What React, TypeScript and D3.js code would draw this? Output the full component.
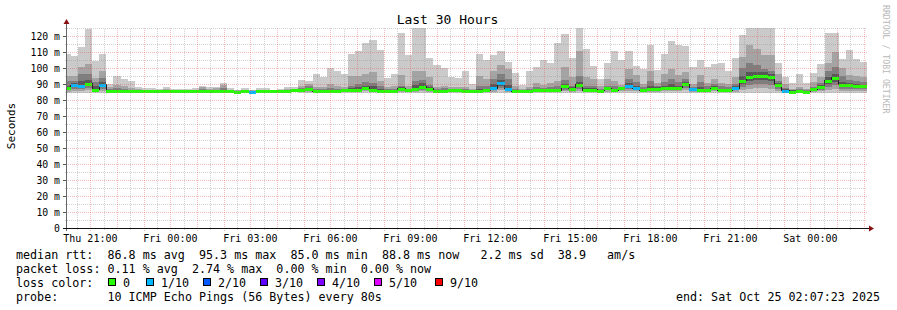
import React from 'react';
import * as d3 from 'd3';

// ---------- data ----------
const titleText = 'Last 30 Hours';
const yAxisLabel = 'Seconds';
const sideText = 'RRDTOOL / TOBI OETIKER';
const yTickValues = [0, 10, 20, 30, 40, 50, 60, 70, 80, 90, 100, 110, 120];

// 16-minute consolidated blocks, starting Thu 20:00 UTC
const hi = [108.5,107.5,113,124.5,104.5,108.7,90,95.2,93,91.7,
 88.3,87.5,87.5,86.7,88.3,86.7,86.7,86.7,87.5,88.7,
 88.3,88.3,90.8,87.5,86.2,87.5,86.2,87.5,87.5,86.3,
 86.7,88.3,88.3,92.5,91.7,96.3,94.6,100.2,98.1,96.3,
 108.8,110.4,115.6,117.5,111.3,93.8,96.3,121.9,108.1,128,
 128,106,101.9,100.2,94.6,93.8,98.1,90,108.8,105,
 108.1,110.4,103.8,96.7,89.4,98.1,100.6,105,103.1,115.8,
 121.3,106.3,128,111.9,101.3,93.1,103.1,110.6,105,110.6,
 101.3,99.4,114.4,98.8,108.8,116.9,114.4,113.8,100.4,105,
 100.8,102.5,103.1,98.1,106.3,120.6,128,128,128,128,
 103.1,94.6,90.6,96.3,90.6,96.9,102.5,121.9,121.9,105.6,
 111.3,105.6,104];
const p9 = [95,95,100.5,102.5,94,98,88,89.5,88.5,87.5,
 87,86.5,86.3,86.2,86.8,86.2,86.2,86.2,86.5,88.3,
 87,87.5,89.2,86.5,86,86.3,86,86.5,86.5,86,
 86.2,86.8,87,89,90,88,88,90,88.8,88,
 95.2,95.2,96.3,97.7,92,88,88.8,95.8,88.8,98.3,
 97.9,94.2,88,89,88,88.3,88.3,86.7,95.2,93,
 98.3,101.9,99.4,89,86.9,88,90.8,89.6,90.8,92,
 100.8,94.2,110.4,94.2,92.9,89,92.9,92,89.6,99.6,
 95.8,90,98.3,90.8,96.3,99.4,95.6,97.3,90,95.8,
 90.8,93.1,90.4,90,94.2,106.7,114.6,111.9,108.1,108.1,
 96.3,90,87.1,88,86.7,91,94.2,103.1,109.8,99.8,
 95.6,95.2,94.2];
const p8 = [92,92,96,96,91,94,86.8,87.5,87,86.5,
 86.3,86,86,85.9,86.2,85.9,85.9,85.9,86,87,
 86.3,86.5,87.5,86,85.8,85.9,85.8,86,86,85.8,
 85.9,86.2,86.3,87.3,88.5,86.8,86.8,87.5,87,86.8,
 89,90,91,90.5,89,86.8,87,89,87,92,
 92.5,89.5,86.8,87.3,86.8,87,87,86,89,88.5,
 93,96.3,93,87,86.2,86.8,88,87.5,88,88.5,
 92.5,89,95,89,88.5,87,88.5,88.5,88,93,
 91,88,92,88.5,91,93,91,93,88,91,
 88.5,90,88.5,88,90,100,102.9,102,99.4,98,
 92,87.5,86.2,86.8,86,88.3,90.5,98,100.4,95,
 92.5,92,91];
const p7 = [89,90.5,92,92.5,88.5,91.5,86.2,86.5,86.3,86.1,
 86,85.8,85.8,85.7,85.9,85.7,85.7,85.7,85.8,86.3,
 86,86.1,86.5,85.8,85.7,85.7,85.7,85.8,85.8,85.7,
 85.7,85.9,86.2,86.5,87.5,86.3,86.2,86.5,86.3,86.4,
 87.3,88,89,88.5,87,86.2,86.3,88,86.8,89.5,
 90.5,88,86.3,86.4,86.5,86.5,86.3,85.8,87,87,
 90,92.5,89.5,86.3,85.9,86.2,86.8,86.8,86.8,87,
 90,88,91.5,87.5,87.2,86.3,88,87,88.3,90.5,
 89,86.8,88.5,88,89,90,89,91.5,87.5,88,
 87,88.5,87,87,88.5,95,97.5,97.5,97.5,96.5,
 90.5,86.8,86,86.3,85.8,87.3,89.3,94.5,96.5,91.5,
 90.5,90,89.5];
const med = [87.4,89.2,88.8,90.3,86.5,89.6,85.5,85.5,85.6,85.5,
 85.5,85.4,85.4,85.4,85.5,85.4,85.4,85.4,85.4,85.6,
 85.5,85.6,85.7,85.4,85.3,85.4,85.3,85.4,85.5,85.4,
 85.4,85.5,86,86,86.9,85.6,85.6,85.6,85.6,86,
 86,86.5,87.7,86.5,85.6,85.6,85.6,87.1,86.5,87.1,
 88.3,87.1,85.6,85.6,86.2,86,85.6,85.5,85.6,86.2,
 87.5,90.4,86.9,85.6,85.5,85.6,86,86,86.2,86.2,
 88.5,87.1,89.4,86.2,86.5,85.8,87.3,86,87.7,88.8,
 87.5,86,86.7,86.7,87.7,87.7,87.7,90,86.7,86.2,
 86,87.5,86,86,87.3,92.1,94.6,95,95.3,94.6,
 89.6,85.8,85.2,85.6,85.2,86.7,88.3,92.1,93.8,89.6,
 89.2,89,88.8];
const lo = [84.4,84.4,84.4,84.3,84.5,84.4,84.8,84.8,84.8,84.8,
 84.8,84.8,84.8,84.8,84.8,84.8,84.8,84.8,84.8,84.8,
 84.8,84.8,84.8,84.8,84.8,84.8,84.8,84.8,84.8,84.8,
 84.8,84.8,84.7,84.6,84.5,84.7,84.7,84.6,84.6,84.6,
 84.5,84.5,84.4,84.4,84.5,84.7,84.6,84.4,84.5,84.3,
 84.3,84.5,84.6,84.6,84.6,84.6,84.6,84.7,84.5,84.5,
 84.4,84.3,84.4,84.6,84.7,84.6,84.5,84.5,84.5,84.4,
 84.3,84.5,84.3,84.5,84.5,84.6,84.5,84.4,84.5,84.4,
 84.5,84.6,84.4,84.5,84.5,84.4,84.4,84.4,84.6,84.5,
 84.6,84.5,84.5,84.6,84.5,84.3,84.2,84.2,84.2,84.3,
 84.5,84.7,84.8,84.7,84.8,84.6,84.5,84.3,84.3,84.4,
 84.4,84.5,84.5];
const loss = [0,1,1,0,0,1,0,0,0,0,
 0,0,0,0,0,0,0,0,0,0,
 0,0,0,0,0,0,1,0,0,0,
 0,0,0,0,0,0,0,0,0,0,
 0,0,0,0,0,0,0,0,0,0,
 0,0,0,0,0,0,0,0,0,0,
 1,1,1,0,0,0,0,0,0,0,
 0,0,0,0,0,0,0,0,0,1,
 1,0,0,0,0,0,0,0,1,0,
 0,0,0,0,1,0,0,0,0,0,
 0,1,0,0,0,0,0,0,0,0,
 0,0,0];

const lossLabels = ['0', '1/10', '2/10', '3/10', '4/10', '5/10', '9/10'];
const lossColors = ['#26ff00', '#00b8ff', '#0059ff', '#5e00ff', '#7e00ff', '#dd00ff', '#ff0000'];

const legendRows = [
  'median rtt:  86.8 ms avg  95.3 ms max  85.0 ms min  88.8 ms now   2.2 ms sd  38.9   am/s',
  'packet loss: 0.11 % avg  2.74 % max  0.00 % min  0.00 % now',
];
const lossColorLabel = 'loss color:';
const probeRow = 'probe:       10 ICMP Echo Pings (56 Bytes) every 80s';
const endText = 'end: Sat Oct 25 02:07:23 2025';

// ---------- layout ----------
const W = 897, H = 310;
const X0 = 67, X1 = 867, YB = 228, YT = 28;
const START = Date.UTC(2025, 9, 23, 20, 7, 23);
const END = Date.UTC(2025, 9, 25, 2, 7, 23);
const BLOCK0 = Date.UTC(2025, 9, 23, 20, 0, 0);
const STEP = 16 * 60 * 1000;
const Y_MAX = 125;
const MONO = '"DejaVu Sans Mono", monospace';

export default function App() {
  const x = d3.scaleUtc().domain([new Date(START), new Date(END)]).range([X0, X1]);
  const y = d3.scaleLinear().domain([0, Y_MAX]).range([YB, YT]);
  const cx = (v: number) => Math.max(X0, Math.min(X1, v));

  const blocks = med.map((m, i) => {
    const t0 = BLOCK0 + i * STEP;
    return { i, xa: cx(x(new Date(t0))), xb: cx(x(new Date(t0 + STEP))) };
  });

  const bands = [
    { top: hi, fill: '#cacaca', frac: 1 },
    { top: p9, fill: '#a4a4a4', frac: 0.72 },
    { top: p8, fill: '#7e7e7e', frac: 0.48 },
    { top: p7, fill: '#585858', frac: 0.25 },
  ];

  const medLine = d3.line<number>()
    .x((_, i) => i < med.length ? blocks[i].xa : blocks[med.length - 1].xb)
    .y((d) => y(d))
    .curve(d3.curveStepAfter);
  const medPath = medLine([...med, med[med.length - 1]]);

  const minorX = d3.utcMinute.every(30)!.range(new Date(START), new Date(END)).filter(d => d.getUTCMinutes() !== 0);
  const majorX = d3.utcHour.every(1)!.range(new Date(START), new Date(END));
  const labelX = d3.utcHour.every(3)!.range(new Date(START), new Date(END));
  const fmt = d3.utcFormat('%a %H:%M');

  const minorY = d3.range(5, Y_MAX + 1, 10);
  const majorY = yTickValues.filter(v => v > 0);

  const lossItemX = [108, 146, 203, 260, 317, 374, 435];
  const minorStroke = 'rgba(140,140,140,0.4)';
  const majorStroke = 'rgba(235,70,70,0.38)';

  return (
    <svg width={W} height={H} style={{ position: 'absolute', left: 0, top: 0, background: '#fff' }}
      xmlns="http://www.w3.org/2000/svg">
      <rect x={0} y={0} width={W} height={H} fill="#fff" />
      <defs>
        <clipPath id="plot"><rect x={X0} y={YT} width={X1 - X0} height={YB - YT} /></clipPath>
      </defs>

      {/* smoke */}
      <g clipPath="url(#plot)" shapeRendering="crispEdges">
        {bands.map((b, bi) => (
          <g key={bi}>
            {blocks.map(({ i, xa, xb }) => {
              const yTop = y(b.top[i]);
              const yMed = y(med[i]);
              const yLo = y(lo[i]);
              const yBot = yMed + b.frac * (yLo - yMed);
              return <rect key={i} x={xa} y={yTop} width={Math.max(0, xb - xa)} height={Math.max(0, yBot - yTop)} fill={b.fill} />;
            })}
          </g>
        ))}
        {/* median line */}
        <path d={medPath || ''} fill="none" stroke="#202020" strokeWidth={1} />
        {blocks.map(({ i, xa, xb }) => (
          <rect key={'m' + i} x={xa} y={Math.round(y(med[i])) - 1.5} width={Math.max(0, xb - xa)} height={3}
            fill={lossColors[loss[i]]} />
        ))}
      </g>

      {/* grid */}
      <g shapeRendering="crispEdges" strokeDasharray="1,1" strokeWidth={1}>
        {minorY.map(v => (
          <line key={'my' + v} x1={X0 - 2} x2={X1} y1={Math.round(y(v)) + 0.5} y2={Math.round(y(v)) + 0.5}
            stroke={minorStroke} />
        ))}
        {minorX.map(d => (
          <line key={'mx' + +d} x1={Math.round(x(d)) + 0.5} x2={Math.round(x(d)) + 0.5} y1={YB + 2} y2={YT}
            stroke={minorStroke} />
        ))}
        {majorY.map(v => (
          <line key={'My' + v} x1={X0 - 3} x2={X1} y1={Math.round(y(v)) + 0.5} y2={Math.round(y(v)) + 0.5}
            stroke={majorStroke} />
        ))}
        {majorX.map(d => (
          <line key={'Mx' + +d} x1={Math.round(x(d)) + 0.5} x2={Math.round(x(d)) + 0.5} y1={YB + 3} y2={YT}
            stroke={majorStroke} />
        ))}
      </g>

      {/* axes */}
      <g shapeRendering="crispEdges">
        {majorY.map(v => (
          <line key={'t' + v} x1={X0 - 4} x2={X0} y1={Math.round(y(v)) + 0.5} y2={Math.round(y(v)) + 0.5} stroke="#555" />
        ))}
        <line x1={X0 - 0.5} x2={X0 - 0.5} y1={YB + 3} y2={21} stroke="#666" />
        <line x1={X0 - 4} x2={X1 + 3} y1={YB + 0.5} y2={YB + 0.5} stroke="#111" />
      </g>
      <path d={`M${X0 - 3.5},${24} L${X0 - 0.5},${19} L${X0 + 2.5},${24} Z`} fill="#8a1010" />
      <path d={`M${X1 + 2},${YB - 2.5} L${X1 + 7},${YB + 0.5} L${X1 + 2},${YB + 3.5} Z`} fill="#8a1010" />

      {/* y labels */}
      <g fontFamily={MONO} fontSize={9.8} fill="#000">
        {yTickValues.map(v => (
          <text key={'yl' + v} x={60} y={y(v) + 3.5} textAnchor="end">{v === 0 ? '0' : `${v} m`}</text>
        ))}
      </g>

      {/* x labels */}
      <g fontFamily={MONO} fontSize={10} fill="#000">
        {labelX.map(d => (
          <text key={'xl' + +d} x={x(d)} y={241.5} textAnchor="middle">{fmt(d)}</text>
        ))}
      </g>

      {/* title & axis label */}
      <text x={447.5} y={24} textAnchor="middle" fontFamily={MONO} fontSize={13} fill="#000">{titleText}</text>
      <text transform="translate(15,126) rotate(-90)" textAnchor="middle" fontFamily={MONO} fontSize={11} fill="#000">{yAxisLabel}</text>
      <text transform="translate(883,5) rotate(90)" textAnchor="start" fontFamily={MONO} fontSize={8.2} fill="#b8b8b8">{sideText}</text>

      {/* legend */}
      <g fontFamily={MONO} fontSize={11.7} fill="#000" style={{ whiteSpace: 'pre' }}>
        {legendRows.map((r, i) => (
          <text key={'lr' + i} x={16} y={258.5 + i * 14} xmlSpace="preserve">{r}</text>
        ))}
        <text x={16} y={286.5} xmlSpace="preserve">{lossColorLabel}</text>
        {lossLabels.map((l, i) => (
          <g key={'lc' + i}>
            <rect x={lossItemX[i] + 0.5} y={278.5} width={7} height={7} fill={lossColors[i]} stroke="#000" strokeWidth={1} shapeRendering="crispEdges" />
            <text x={lossItemX[i] + 15} y={286.5}>{l}</text>
          </g>
        ))}
        <text x={16} y={300.5} xmlSpace="preserve">{probeRow}</text>
        <text x={880} y={300.5} textAnchor="end" xmlSpace="preserve">{endText}</text>
      </g>
    </svg>
  );
}
